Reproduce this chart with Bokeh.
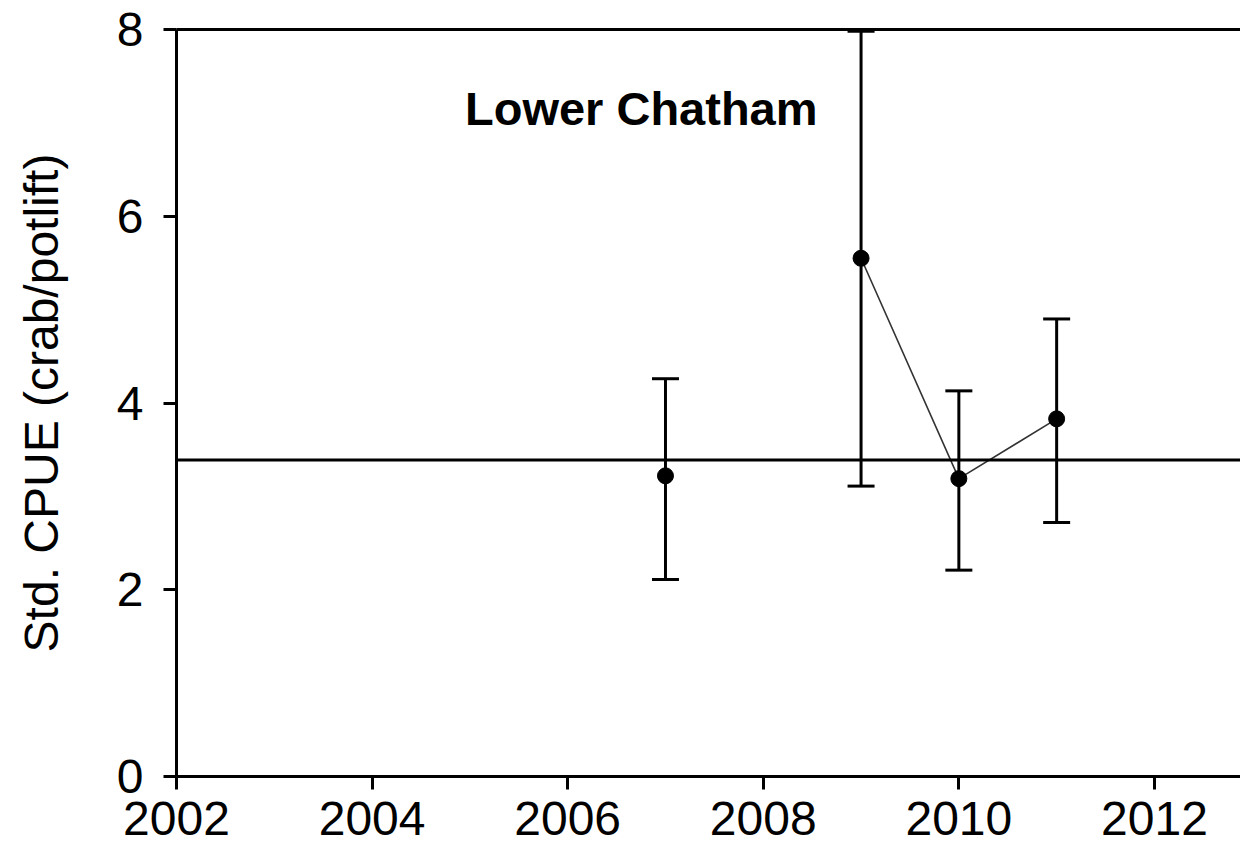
import math
from bokeh.plotting import figure
from bokeh.models import (ColumnDataSource, Whisker, TeeHead, Span, Label,
                          LinearAxis, FixedTicker, Range1d)
from bokeh.embed import file_html
from bokeh.resources import INLINE

# ---- data ----
years = [2007, 2008, 2009, 2010, 2011]
cpue = [3.22, float("nan"), 5.55, 3.19, 3.83]
lower = [2.11, float("nan"), 3.11, 2.21, 2.72]
upper = [4.26, float("nan"), 7.98, 4.13, 4.90]
reference_level = 3.39
title_text = "Lower Chatham"
y_label = "Std. CPUE (crab/potlift)"
x_ticks = [2002, 2004, 2006, 2008, 2010, 2012]
y_ticks = [0, 2, 4, 6, 8]

FONT = "Liberation Sans"

p = figure(width=1240, height=853, output_backend="svg", toolbar_location=None,
           x_range=Range1d(2002, 2012.88), y_range=Range1d(0, 8),
           min_border_left=176, min_border_right=0, min_border_top=29,
           min_border_bottom=77)
p.outline_line_color = None
p.grid.visible = False
p.background_fill_color = "white"
p.border_fill_color = "white"

for ax in (p.xaxis[0], p.yaxis[0]):
    ax.axis_line_width = 3
    ax.axis_line_color = "black"
    ax.major_tick_line_width = 3
    ax.major_tick_line_color = "black"
    ax.major_tick_in = 0
    ax.major_tick_out = 13
    ax.minor_tick_line_color = None
    ax.major_label_text_font = FONT
    ax.major_label_text_font_size = "48px"
    ax.major_label_text_color = "black"

p.xaxis[0].ticker = FixedTicker(ticks=x_ticks)
p.yaxis[0].ticker = FixedTicker(ticks=y_ticks)
p.xaxis[0].major_label_standoff = 12
p.yaxis[0].major_label_standoff = 20
p.yaxis[0].axis_label = y_label
p.yaxis[0].axis_label_text_font = FONT
p.yaxis[0].axis_label_text_font_size = "48px"
p.yaxis[0].axis_label_text_font_style = "normal"
p.yaxis[0].axis_label_text_color = "black"
p.yaxis[0].axis_label_standoff = 46

top_axis = LinearAxis(axis_line_width=3, axis_line_color="black",
                      ticker=FixedTicker(ticks=[]),
                      major_tick_line_color=None, minor_tick_line_color=None,
                      major_tick_out=0, major_tick_in=0,
                      major_label_standoff=0)
p.add_layout(top_axis, "above")

src = ColumnDataSource(dict(x=years, y=cpue, lo=lower, hi=upper))

p.add_layout(Span(location=reference_level, dimension="width",
                  line_color="black", line_width=3))

p.add_layout(Whisker(source=src, base="x", lower="lo", upper="hi",
                     line_color="black", line_width=3,
                     upper_head=TeeHead(size=27, line_width=3, line_color="black"),
                     lower_head=TeeHead(size=27, line_width=3, line_color="black")))

p.line("x", "y", source=src, line_color="#333333", line_width=1.6)
p.scatter("x", "y", source=src, size=16, color="black")

p.add_layout(Label(x=2004.95, y=7.15, text=title_text, text_font=FONT,
                   text_font_size="47px", text_font_style="bold",
                   text_color="black", text_baseline="alphabetic"))

open("out.html", "w").write(file_html(p, INLINE))
